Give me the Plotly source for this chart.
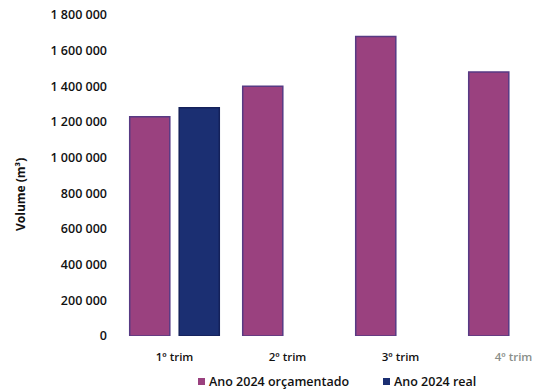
import plotly.graph_objects as go

# Quarterly volumes (m³)
quarters = ["1º trim", "2º trim", "3º trim", "4º trim"]
budgeted_2024 = [1230000, 1400000, 1680000, 1480000]
actual_2024 = [1280000, None, None, None]
y_ticks = [0, 200000, 400000, 600000, 800000, 1000000, 1200000, 1400000, 1600000, 1800000]
series_names = ["Ano 2024 orçamentado", "Ano 2024 real"]
y_title = "Volume (m³)"

W, H = 538, 392
m_l, m_r, m_t, m_b = 118, 0, 15, 56
plot_w = W - m_l - m_r
plot_h = H - m_t - m_b

budget_fill, budget_edge = "#9a417f", "#573a84"
actual_fill, actual_edge = "#1b2f72", "#14215a"
ink = "#111111"
font_family = "Open Sans, Liberation Sans, sans-serif"


def px_x(x):
    return (x - m_l) / plot_w


def px_y(y):
    return (m_t + plot_h - y) / plot_h


# last quarter label drawn in a lighter grey
tick_text = quarters[:-1] + ["<span style='color:#8a8f8a'>" + quarters[-1] + "</span>"]

fig = go.Figure()
fig.add_trace(go.Bar(
    x=quarters, y=budgeted_2024, name=series_names[0],
    marker=dict(color=budget_fill, line=dict(color=budget_edge, width=1.5)),
))
fig.add_trace(go.Bar(
    x=quarters, y=actual_2024, name=series_names[1],
    marker=dict(color=actual_fill, line=dict(color=actual_edge, width=1.5)),
))

# legend: small square swatch right next to each label
legend_items = [(series_names[0], budget_fill, 198), (series_names[1], actual_fill, 383)]
shapes, annotations = [], []
for name, color, x0 in legend_items:
    shapes.append(dict(
        type="rect", xref="paper", yref="paper",
        x0=px_x(x0), x1=px_x(x0 + 7), y0=px_y(385), y1=px_y(378),
        fillcolor=color, line=dict(width=0),
    ))
    annotations.append(dict(
        text=name, xref="paper", yref="paper",
        x=px_x(x0 + 9), y=px_y(381.5), xanchor="left", yanchor="middle",
        showarrow=False, font=dict(size=12.5, weight=600, color=ink),
    ))

annotations.append(dict(
    text=y_title, xref="paper", yref="paper", textangle=-90,
    x=px_x(20), y=px_y(195), xanchor="center", yanchor="middle",
    showarrow=False, font=dict(size=12, weight=700, color=ink),
))

fig.update_layout(
    width=W, height=H,
    margin=dict(l=m_l, r=m_r, t=m_t, b=m_b, autoexpand=False),
    paper_bgcolor="white", plot_bgcolor="white",
    barmode="group", bargap=0.124, bargroupgap=0.19,
    separators=", ",
    font=dict(family=font_family, size=12, color=ink),
    showlegend=False,
    shapes=shapes, annotations=annotations,
    xaxis=dict(
        type="category",
        range=[-0.5, -0.5 + plot_w / 113.0],
        tickmode="array", tickvals=quarters, ticktext=tick_text,
        showgrid=False, showline=False, zeroline=False, ticks="",
        ticklabelstandoff=12,
        tickfont=dict(size=11.5, weight=600, color=ink),
    ),
    yaxis=dict(
        range=[0, 1800000],
        tickmode="array", tickvals=y_ticks, tickformat=",d",
        showgrid=False, showline=False, zeroline=False, ticks="",
        ticklabelstandoff=10,
        tickfont=dict(size=12.5, weight=600, color=ink),
    ),
)

fig.write_html("out.html")
